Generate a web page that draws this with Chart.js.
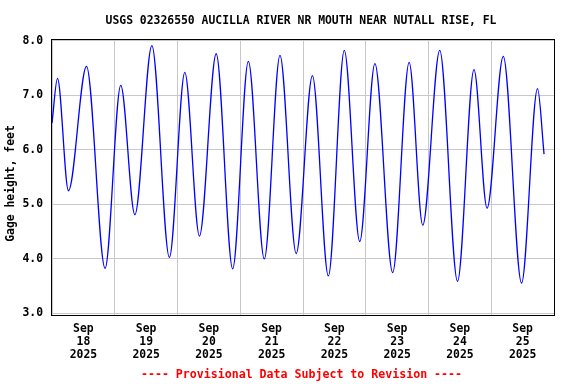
<!DOCTYPE html>
<html>
<head>
<meta charset="utf-8">
<title>USGS 02326550 gage height</title>
<script src="https://cdn.jsdelivr.net/npm/chart.js@4"></script>
<style>
  body { margin: 0; background: #fff; }
  canvas { display: block; }
</style>
</head>
<body>
<canvas id="myChart" width="576" height="384"></canvas>
<script>
'use strict';

// ******* DATA *******
// hours after Sep 18 2025 00:00, read off the turning points of the tide curve
let hours = [0, 2.1, 6.3, 13.2, 20.3, 26.3, 31.7, 38.2, 44.9, 50.8, 56.4,
  62.8, 69.1, 75.1, 81.2, 87.2, 93.4, 99.6, 105.7, 111.8, 117.7, 123.5,
  130.3, 136.6, 141.8, 148.3, 155.1, 161.4, 166.4, 172.6, 179.6, 185.7, 188.2];
let gageFeet = [6.49, 7.31, 5.25, 7.53, 3.83, 7.18, 4.81, 7.91, 4.03, 7.42, 4.42,
  7.76, 3.82, 7.62, 4.00, 7.73, 4.10, 7.36, 3.69, 7.82, 4.32, 7.58,
  3.75, 7.60, 4.62, 7.82, 3.59, 7.47, 4.93, 7.71, 3.56, 7.12, 5.92];

let monthLabel = 'Sep';
let dayLabels = ['18', '19', '20', '21', '22', '23', '24', '25'];
let yearLabel = '2025';
let yTicks = [3, 4, 5, 6, 7, 8];

let titleText = 'USGS 02326550 AUCILLA RIVER NR MOUTH NEAR NUTALL RISE, FL';
let yTitleText = 'Gage height, feet';
let footerText = '---- Provisional Data Subject to Revision ----';

// ******* HELPERS *******
let monoFont = '"DejaVu Sans Mono", "Liberation Mono", monospace';

let chartText = {
  id: 'chartText',
  afterDraw(chart) {
    let ctx = chart.ctx;
    let area = chart.chartArea;
    ctx.save();

    // frame round the plot
    ctx.strokeStyle = '#000';
    ctx.lineWidth = 1;
    ctx.strokeRect(area.left - 0.5, area.top + 0.5, area.right - area.left + 1, area.bottom - area.top - 1);

    ctx.textAlign = 'center';
    ctx.textBaseline = 'middle';
    ctx.font = 'bold 11.4px ' + monoFont;
    ctx.fillStyle = '#000';
    ctx.fillText(titleText, 301, 21);

    ctx.fillStyle = '#ff0000';
    ctx.font = 'bold 11.6px ' + monoFont;
    ctx.fillText(footerText, 301.5, 375);

    ctx.fillStyle = '#000';
    ctx.font = 'bold 11.4px ' + monoFont;
    ctx.translate(11, 183.5);
    ctx.rotate(-Math.PI / 2);
    ctx.fillText(yTitleText, 0, 0);
    ctx.restore();
  }
};

// ******* CHART *******
let points = [];
for (let i = 0; i < hours.length; i++) {
  points.push({ x: hours[i], y: gageFeet[i] });
}

let canvasElem = document.getElementById('myChart').getContext('2d');

new Chart(canvasElem, {
  type: 'line',
  data: {
    datasets: [{
      data: points,
      borderColor: '#0000ff',
      borderWidth: 1.3,
      pointRadius: 0,
      cubicInterpolationMode: 'monotone',
      fill: false
    }]
  },
  options: {
    responsive: false,
    animation: false,
    events: [],
    layout: { padding: { top: 39, right: 22, bottom: 0, left: 0 } },
    plugins: {
      legend: { display: false },
      title: { display: false },
      tooltip: { enabled: false }
    },
    scales: {
      x: {
        type: 'linear',
        position: 'bottom',
        min: 0,
        max: 192,
        ticks: { display: false, stepSize: 24 },
        grid: { color: '#c8c8c8', lineWidth: 1, drawTicks: false },
        border: { display: false },
        afterFit(axis) { axis.height = 0; }
      },
      xDays: {
        type: 'linear',
        position: 'bottom',
        min: 0,
        max: 192,
        afterBuildTicks(axis) {
          axis.ticks = dayLabels.map((d, i) => ({ value: 12 + 24 * i }));
        },
        ticks: {
          autoSkip: false,
          maxRotation: 0,
          padding: 6,
          color: '#000',
          font: { family: monoFont, size: 11.4, weight: 'bold', lineHeight: 1.17 },
          callback: (value, index) => [monthLabel, dayLabels[index], yearLabel]
        },
        grid: { display: false, drawTicks: false },
        border: { display: false },
        afterFit(axis) { axis.height = 68; }
      },
      y: {
        min: 2.955,
        max: 8.03,
        afterBuildTicks(axis) {
          axis.ticks = yTicks.map(v => ({ value: v }));
        },
        ticks: {
          padding: 9,
          color: '#000',
          font: { family: monoFont, size: 11.4, weight: 'bold' },
          callback: (value) => value.toFixed(1)
        },
        grid: { color: '#c8c8c8', lineWidth: 1, drawTicks: false },
        border: { display: false },
        afterFit(axis) { axis.width = 52; }
      }
    }
  },
  plugins: [chartText]
});
</script>
</body>
</html>
